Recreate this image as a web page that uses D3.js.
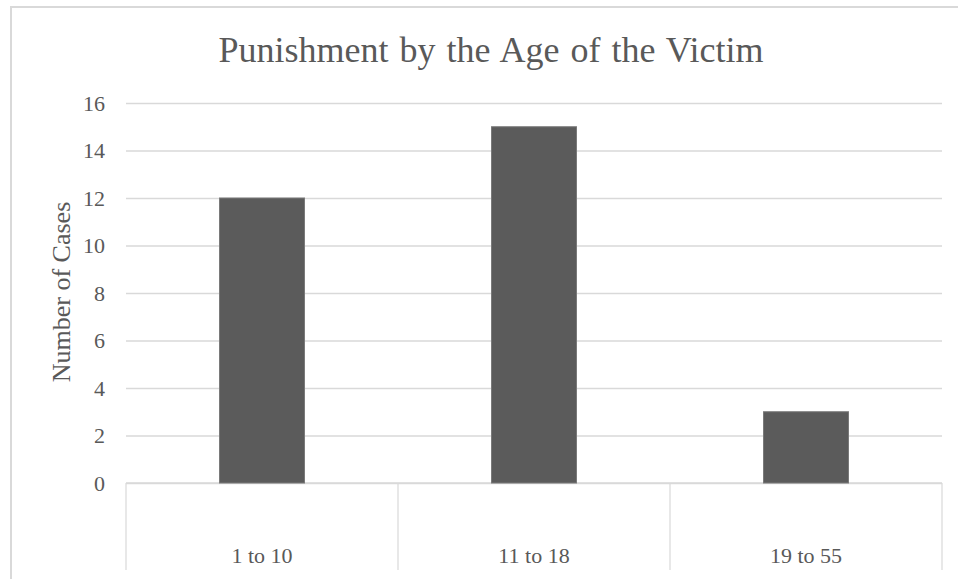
<!DOCTYPE html>
<html>
<head>
<meta charset="utf-8">
<script src="https://cdn.jsdelivr.net/npm/d3@7"></script>
<style>
  body { margin: 0; background: #fff; }
  text { font-family: "Liberation Serif", "Times New Roman", serif; fill: #595959; }
</style>
</head>
<body>
<svg width="958" height="579"></svg>
<script>
// chart data
let categories = ["1 to 10", "11 to 18", "19 to 55"];
let cases = [12, 15, 3];
let yTicks = [0, 2, 4, 6, 8, 10, 12, 14, 16];
let chartTitle = "Punishment by the Age of the Victim";
let yTitle = "Number of Cases";

let svg = d3.select("svg"),
    margin = {top: 103, right: 16, bottom: 96, left: 126},
    width = +svg.attr("width") - margin.left - margin.right,
    height = +svg.attr("height") - margin.top - margin.bottom;

// outer chart frame (runs off the right/bottom of the picture)
svg.append("rect")
    .attr("x", 11)
    .attr("y", 7)
    .attr("width", 1000)
    .attr("height", 700)
    .attr("fill", "none")
    .attr("stroke", "#d9d9d9")
    .attr("stroke-width", 2);

let x = d3.scaleBand().domain(categories).range([0, width])
        .paddingInner(0.6875).paddingOuter(0.34375),
    xCell = d3.scaleBand().domain(categories).range([0, width]).padding(0),
    y = d3.scaleLinear().domain([0, 16]).range([height, 0]);

let g = svg.append("g")
    .attr("transform", "translate(" + margin.left + "," + margin.top + ")");

// gridlines + tick labels
let yAxis = d3.axisLeft(y).tickValues(yTicks).tickSize(-width).tickPadding(21);
g.append("g")
    .attr("class", "axis axis--y")
    .attr("font-family", null)
    .attr("font-size", null)
    .call(yAxis)
    .call(s => s.select(".domain").remove())
    .call(s => s.selectAll("line").attr("stroke", "#d9d9d9").attr("stroke-width", 1.5))
    .call(s => s.selectAll("text")
        .style("font-family", "'Liberation Serif', serif")
        .style("font-size", "22px")
        .attr("fill", "#595959"));

// category table below the axis
let table = g.append("g").attr("class", "axis axis--x");
table.append("line")
    .attr("x1", 0).attr("x2", width)
    .attr("y1", height).attr("y2", height)
    .attr("stroke", "#d9d9d9").attr("stroke-width", 1.5);
let edges = categories.map(c => xCell(c)).concat([xCell.range()[1]]);
table.selectAll(".sep")
    .data(edges)
    .enter().append("line")
    .attr("class", "sep")
    .attr("x1", d => d).attr("x2", d => d)
    .attr("y1", height).attr("y2", height + 87)
    .attr("stroke", "#d9d9d9").attr("stroke-width", 1.2);
table.selectAll(".cat")
    .data(categories)
    .enter().append("text")
    .attr("class", "cat")
    .attr("x", d => xCell(d) + xCell.bandwidth() / 2)
    .attr("y", height + 80)
    .attr("text-anchor", "middle")
    .style("font-size", "22px")
    .text(d => d);

// bars
g.selectAll(".bar")
    .data(categories)
    .enter().append("rect")
    .attr("class", "bar")
    .attr("x", d => x(d))
    .attr("width", x.bandwidth())
    .attr("y", (d, i) => y(cases[i]))
    .attr("height", (d, i) => height - y(cases[i]))
    .attr("fill", "#5b5b5b")
    .attr("stroke", "#7a7a7a")
    .attr("stroke-width", 1);

// titles
svg.append("text")
    .attr("x", 491)
    .attr("y", 62)
    .attr("text-anchor", "middle")
    .style("font-size", "36px")
    .attr("word-spacing", 2)
    .text(chartTitle);

svg.append("text")
    .attr("transform", "translate(70," + (margin.top + height / 2 - 1) + ") rotate(-90)")
    .attr("text-anchor", "middle")
    .style("font-size", "26px")
    .text(yTitle);
</script>
</body>
</html>
